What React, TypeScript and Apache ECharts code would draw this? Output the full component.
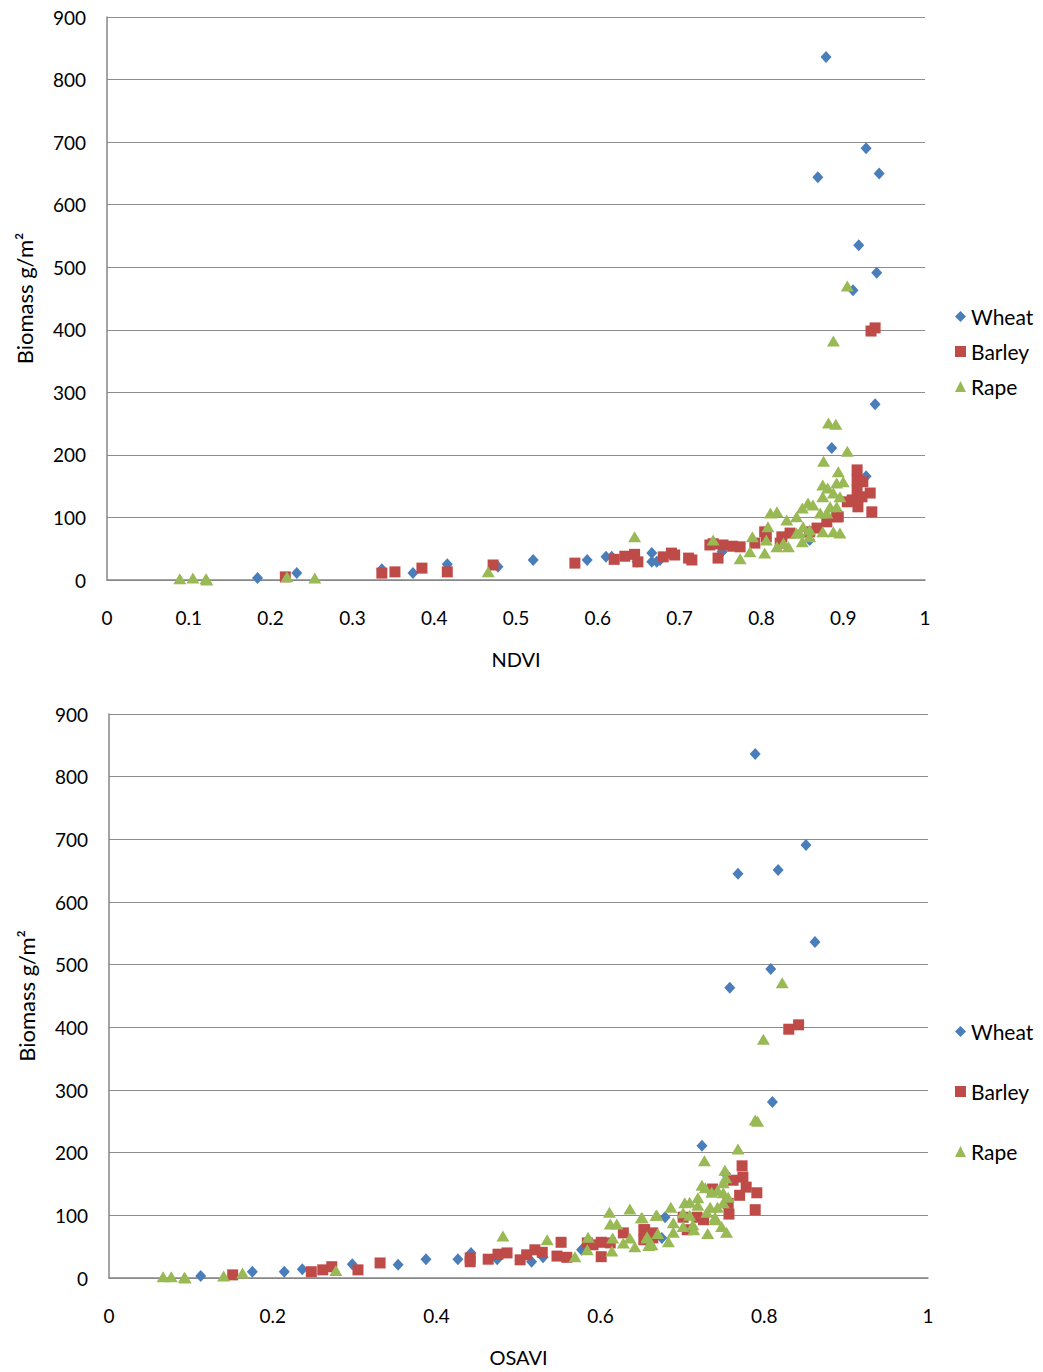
import React, { useEffect, useRef } from "react";
import * as echarts from "echarts";

const seriesNames = ["Wheat", "Barley", "Rape"];
const ndviTicks = [0, 0.1, 0.2, 0.3, 0.4, 0.5, 0.6, 0.7, 0.8, 0.9, 1];
const osaviTicks = [0, 0.2, 0.4, 0.6, 0.8, 1];

const ndviWheat = [
  [0.879, 836], [0.928, 690], [0.869, 644], [0.944, 650], [0.919, 535], [0.912, 463], [0.941, 491],
  [0.939, 281], [0.886, 211], [0.928, 166], [0.859, 64], [0.752, 45], [0.184, 3], [0.232, 11],
  [0.336, 17], [0.374, 11], [0.416, 25], [0.478, 21], [0.521, 32], [0.587, 32], [0.61, 37],
  [0.648, 29], [0.666, 43], [0.666, 29], [0.672, 29], [0.676, 32], [0.617, 37],
];
const ndviBarley = [
  [0.939, 403], [0.934, 398], [0.917, 176], [0.917, 160], [0.924, 157], [0.917, 144], [0.911, 128],
  [0.923, 133], [0.933, 139], [0.918, 117], [0.935, 109], [0.892, 101], [0.905, 125], [0.804, 77],
  [0.806, 69], [0.835, 75], [0.825, 69], [0.823, 59], [0.792, 59], [0.774, 53], [0.765, 54],
  [0.753, 56], [0.741, 58], [0.747, 35], [0.859, 77], [0.868, 83], [0.88, 93], [0.894, 101],
  [0.218, 5], [0.336, 11], [0.352, 13], [0.385, 19], [0.416, 13], [0.472, 24], [0.572, 27],
  [0.62, 33], [0.633, 38], [0.645, 41], [0.649, 29], [0.68, 37], [0.69, 43], [0.694, 40],
  [0.711, 35], [0.715, 32], [0.737, 56],
];
const ndviRape = [
  [0.905, 470], [0.888, 382], [0.882, 251], [0.891, 249], [0.905, 206], [0.876, 190], [0.894, 173],
  [0.9, 157], [0.875, 152], [0.892, 155], [0.881, 147], [0.888, 139], [0.875, 133], [0.896, 133],
  [0.857, 123], [0.863, 120], [0.85, 115], [0.884, 117], [0.892, 117], [0.843, 101], [0.872, 107],
  [0.88, 107], [0.811, 107], [0.819, 109], [0.831, 96], [0.808, 85], [0.851, 85], [0.859, 80],
  [0.847, 75], [0.875, 77], [0.888, 77], [0.896, 75], [0.789, 69], [0.806, 64], [0.819, 53],
  [0.827, 59], [0.833, 53], [0.843, 75], [0.85, 61], [0.786, 45], [0.804, 43], [0.774, 34],
  [0.741, 64], [0.859, 69], [0.089, 2], [0.105, 3], [0.121, 2], [0.122, 0], [0.22, 5],
  [0.254, 3], [0.466, 13], [0.645, 69],
];

const osaviWheat = [
  [0.789, 836], [0.851, 691], [0.768, 645], [0.817, 651], [0.862, 536], [0.808, 493], [0.758, 463],
  [0.81, 281], [0.724, 211], [0.753, 166], [0.679, 97], [0.675, 64], [0.112, 3], [0.175, 10],
  [0.214, 10], [0.236, 14], [0.297, 22], [0.353, 21], [0.387, 30], [0.426, 30], [0.442, 40],
  [0.474, 30], [0.516, 26], [0.53, 33], [0.577, 45],
];
const osaviBarley = [
  [0.83, 397], [0.842, 404], [0.773, 179], [0.774, 161], [0.762, 156], [0.778, 145], [0.77, 132],
  [0.791, 136], [0.789, 109], [0.757, 102], [0.756, 119], [0.737, 142], [0.726, 93], [0.718, 97],
  [0.701, 97], [0.706, 77], [0.654, 77], [0.664, 64], [0.653, 61], [0.151, 5], [0.247, 10],
  [0.261, 13], [0.272, 18], [0.304, 13], [0.331, 24], [0.441, 32], [0.441, 26], [0.463, 30],
  [0.475, 38], [0.486, 40], [0.502, 29], [0.51, 37], [0.52, 45], [0.529, 41], [0.547, 35],
  [0.559, 33], [0.552, 57], [0.584, 56], [0.591, 53], [0.601, 57], [0.601, 34], [0.612, 56],
  [0.628, 72], [0.653, 77], [0.657, 65], [0.664, 72],
];
const osaviRape = [
  [0.822, 471], [0.799, 381], [0.789, 252], [0.792, 250], [0.768, 206], [0.727, 187], [0.752, 172],
  [0.753, 160], [0.75, 152], [0.724, 148], [0.728, 144], [0.736, 137], [0.743, 140], [0.75, 136],
  [0.756, 129], [0.719, 128], [0.709, 121], [0.703, 120], [0.719, 116], [0.734, 113], [0.743, 113],
  [0.75, 120], [0.686, 113], [0.669, 100], [0.701, 104], [0.709, 100], [0.73, 105], [0.74, 97],
  [0.74, 93], [0.689, 88], [0.713, 85], [0.701, 82], [0.651, 96], [0.689, 73], [0.67, 71],
  [0.657, 66], [0.683, 58], [0.659, 52], [0.714, 77], [0.731, 71], [0.748, 82], [0.754, 73],
  [0.481, 67], [0.535, 61], [0.569, 34], [0.585, 65], [0.584, 45], [0.611, 105], [0.636, 110],
  [0.612, 86], [0.62, 86], [0.65, 96], [0.668, 100], [0.615, 64], [0.614, 43], [0.628, 56],
  [0.636, 64], [0.642, 50], [0.657, 64], [0.663, 53], [0.066, 2], [0.076, 2], [0.092, 1],
  [0.093, 0], [0.14, 3], [0.163, 8], [0.277, 12],
];

const FONT = "Lato";
const colors = ["#4A7EBB", "#BE4B48", "#98B954"];
const symbols = ["diamond", "rect", "triangle"];
const symbolSizes: any[] = [[11, 12], [11, 11], [13, 11]];

function xAxisFor(gridIndex: number, name: string, interval: number, ticks: number[]) {
  return {
    type: "value",
    gridIndex,
    min: ticks[0],
    max: ticks[ticks.length - 1],
    interval,
    name,
    nameLocation: "middle",
    nameGap: 69,
    nameTextStyle: { fontFamily: FONT, fontSize: 20, color: "#000" },
    axisLine: { show: true, lineStyle: { color: "#868686", width: 1.5 } },
    axisTick: { show: false },
    splitLine: { show: false },
    axisLabel: {
      fontFamily: FONT,
      fontSize: 19,
      color: "#000",
      margin: 28,
      formatter: (v: number) => String(Math.round(v * 10) / 10),
    },
  };
}

function yAxisFor(gridIndex: number) {
  return {
    type: "value",
    gridIndex,
    min: 0,
    max: 900,
    interval: 100,
    name: "Biomass g/m²",
    nameLocation: "middle",
    nameGap: 72,
    nameTextStyle: { fontFamily: FONT, fontSize: 22, color: "#000" },
    axisLine: { show: true, lineStyle: { color: "#868686", width: 1.5 } },
    axisTick: { show: false },
    splitLine: { show: true, lineStyle: { color: "#8C8C8C", width: 1 } },
    axisLabel: { fontFamily: FONT, fontSize: 19, color: "#000", margin: 21 },
  };
}

function scatter(i: number, data: number[][], axisIndex: number) {
  return {
    type: "scatter",
    name: seriesNames[i],
    xAxisIndex: axisIndex,
    yAxisIndex: axisIndex,
    data,
    symbol: symbols[i],
    symbolSize: symbolSizes[i],
    itemStyle: { color: colors[i], opacity: 1 },
    z: 2 + i,
  };
}

function legendFor(top: number, gap: number) {
  return {
    orient: "vertical",
    left: 950,
    top,
    itemGap: gap,
    itemWidth: 11,
    itemHeight: 11,
    data: seriesNames.map((n, i) => ({ name: n, icon: symbols[i] })),
    textStyle: { fontFamily: FONT, fontSize: 21, color: "#000", padding: [0, 0, 0, 0] },
    selectedMode: false,
  };
}

export default function App() {
  const ref = useRef<HTMLDivElement>(null);
  useEffect(() => {
    if (!ref.current) return;
    const chart = echarts.init(ref.current, undefined, { renderer: "svg" });
    chart.setOption({
      animation: false,
      backgroundColor: "#fff",
      grid: [
        { left: 107, top: 17, width: 818, height: 563 },
        { left: 109, top: 714, width: 819, height: 564 },
      ],
      legend: [legendFor(301, 14), legendFor(1016, 39)],
      xAxis: [xAxisFor(0, "NDVI", 0.1, ndviTicks), xAxisFor(1, "OSAVI", 0.2, osaviTicks)],
      yAxis: [yAxisFor(0), yAxisFor(1)],
      series: [
        scatter(0, ndviWheat, 0),
        scatter(1, ndviBarley, 0),
        scatter(2, ndviRape, 0),
        scatter(0, osaviWheat, 1),
        scatter(1, osaviBarley, 1),
        scatter(2, osaviRape, 1),
      ],
    });
    return () => chart.dispose();
  }, []);
  return (
    <div
      ref={ref}
      style={{ position: "absolute", left: 0, top: 0, width: 1043, height: 1372 }}
    />
  );
}
